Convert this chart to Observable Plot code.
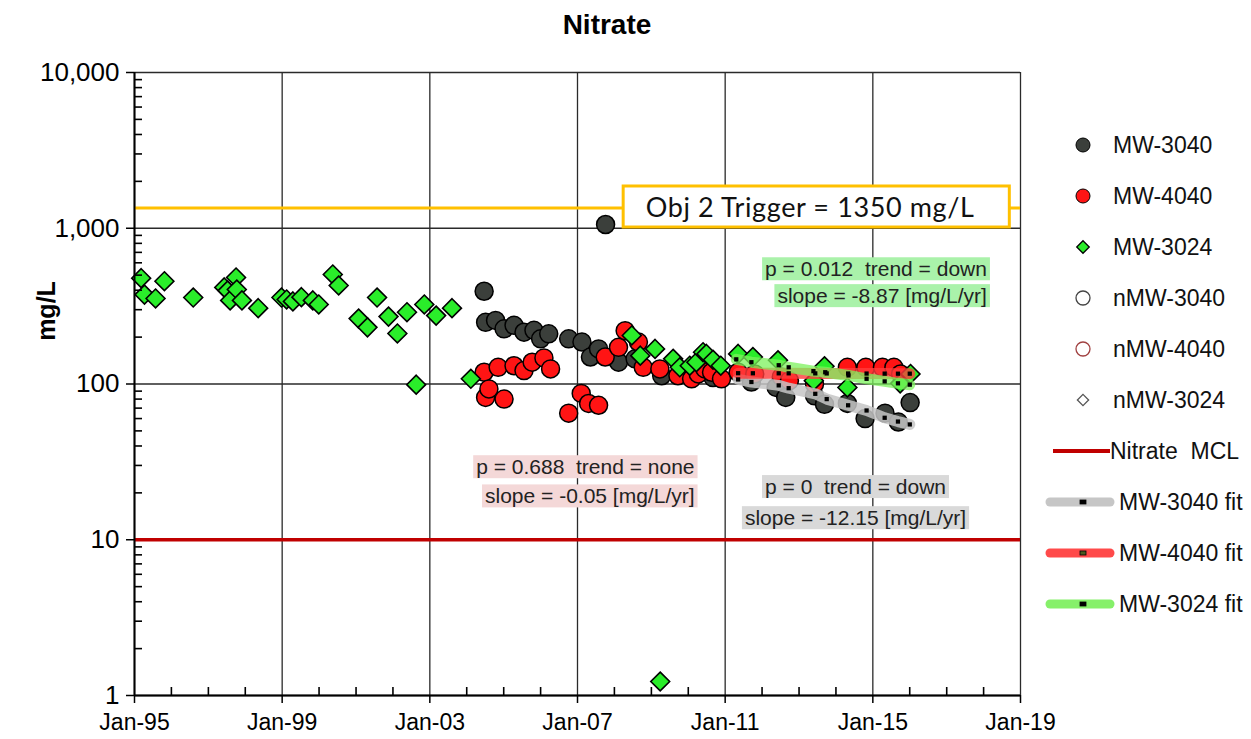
<!DOCTYPE html>
<html><head><meta charset="utf-8">
<script src="https://cdn.jsdelivr.net/npm/d3@7"></script>
<script src="https://cdn.jsdelivr.net/npm/@observablehq/plot@0.6"></script>
<style>
body{margin:0;background:#fff;font-family:"Liberation Sans",Arial,sans-serif;}
#wrap{position:relative;width:1251px;height:739px;overflow:hidden;background:#fff;}
#title{height:50px;position:relative;}
#title span{position:absolute;left:607px;top:9px;transform:translateX(-50%);font-weight:bold;font-size:28px;color:#000;}
#ylab{position:absolute;left:46px;top:311px;transform:translate(-50%,-50%) rotate(-90deg);font-weight:bold;font-size:25px;color:#000;}
#legend{position:absolute;left:1030px;top:110px;}
#chart svg text, #legend text{white-space:pre;}
g.trigger-label text{letter-spacing:0.6px;}
</style></head><body>
<div id="wrap"><div id="title"><span>Nitrate</span></div><div id="chart"></div><div id="ylab">mg/L</div><svg id="legend" width="221" height="520"></svg></div>
<script>
// ---- data (decimal years, mg/L) ----
const mw3040Years = [2004.47, 2004.51, 2004.78, 2005.01, 2005.28, 2005.55, 2005.82, 2006.00, 2006.22, 2006.76, 2007.12, 2007.35, 2007.57, 2007.76, 2008.11, 2008.56, 2009.28, 2010.00, 2010.67, 2011.71, 2012.38, 2012.64, 2013.42, 2013.69, 2014.31, 2014.79, 2015.33, 2015.69, 2016.01];
const mw3040Values = [394, 249, 256, 226, 238, 215, 221, 195, 210, 195, 186, 149, 168, 1057, 138, 145, 113, 119, 110, 103, 95, 82, 84, 74, 75, 60, 65, 57, 76];

const mw4040Years = [2004.47, 2004.51, 2004.60, 2004.85, 2005.01, 2005.28, 2005.55, 2005.77, 2006.09, 2006.27, 2006.76, 2007.10, 2007.30, 2007.57, 2007.75, 2008.11, 2008.29, 2008.65, 2008.78, 2009.23, 2009.72, 2010.09, 2010.27, 2010.45, 2010.63, 2010.90, 2011.35, 2011.80, 2012.52, 2012.74, 2013.42, 2014.31, 2014.81, 2015.26, 2015.57, 2015.75];
const mw4040Values = [119, 82, 93, 128, 80, 131, 122, 138, 147, 125, 65, 87, 75, 73, 149, 172, 220, 186, 128, 125, 113, 108, 116, 125, 119, 108, 119, 116, 111, 105, 100, 128, 128, 128, 128, 116];

const mw3024Years = [1995.18, 1995.27, 1995.57, 1995.81, 1996.59, 1997.43, 1997.52, 1997.59, 1997.75, 1997.77, 1997.91, 1998.35, 1998.98, 1999.12, 1999.29, 1999.52, 1999.83, 1999.99, 2000.37, 2000.53, 2001.07, 2001.31, 2001.57, 2001.88, 2002.12, 2002.38, 2002.63, 2002.85, 2003.17, 2003.60, 2004.11, 2008.47, 2008.70, 2009.10, 2009.24, 2009.59, 2009.77, 2010.04, 2010.22, 2010.40, 2010.49, 2010.67, 2010.88, 2011.35, 2011.75, 2012.43, 2013.40, 2013.69, 2014.31, 2015.74, 2016.02];
const mw3024Values = [478, 375, 354, 457, 359, 417, 398, 344, 483, 404, 344, 307, 359, 349, 339, 361, 344, 324, 505, 429, 263, 231, 359, 271, 211, 289, 99, 324, 275, 307, 108, 205, 152, 168, 1.23, 145, 128, 131, 138, 160, 156, 143, 131, 156, 149, 142, 105, 130, 95, 101, 116];

// trend fit lines
const fit3040Years = [2011.35, 2011.71, 2012.45, 2012.72, 2013.44, 2013.75, 2014.33, 2014.83, 2015.32, 2015.68, 2016.0];
const fit3040Values = [107, 103, 98, 94, 86.5, 80, 73, 67.6, 60.7, 57.4, 55];
const fit4040Years = [2011.35, 2011.75, 2012.45, 2012.72, 2013.44, 2013.75, 2014.33, 2014.83, 2015.32, 2015.68, 2016.0];
const fit4040Values = [117.3, 117.2, 117.1, 117.1, 117.0, 116.9, 116.8, 116.7, 116.6, 116.5, 116.5];
const fit3024Years = [2011.3, 2011.71, 2012.45, 2012.72, 2013.39, 2013.71, 2014.34, 2014.83, 2015.32, 2015.68, 2016.0];
const fit3024Values = [144, 138, 132, 128, 121, 119, 113.5, 108, 104, 101, 99];

const mclValue = [10];
const triggerValue = [1350];

// axis ticks
const majorYears = [1995, 1999, 2003, 2007, 2011, 2015, 2019];
const minorYears = [1996,1997,1998,2000,2001,2002,2004,2005,2006,2008,2009,2010,2012,2013,2014,2016,2017,2018];
const yMajor = [1, 10, 100, 1000, 10000];
const yMinorFactors = [2,3,4,5,6,7,8,9];

// annotations (data units)
const triggerBox = [{x1: 2008.25, x2: 2018.71, y1: 1011, y2: 1854}];
const triggerLabel = [{year: 2013.3, value: 1350, text: "Obj 2 Trigger = 1350 mg/L"}];
const statsGreen = [{year: 2018.09, value: 543, text: "p = 0.012  trend = down"}, {year: 2018.09, value: 365, text: "slope = -8.87 [mg/L/yr]"}];
const statsRed = [{year: 2010.17, value: 29.1, text: "p = 0.688  trend = none"}, {year: 2010.17, value: 18.9, text: "slope = -0.05 [mg/L/yr]"}];
const statsGray = [{year: 2014.53, value: 21.7, text: "p = 0  trend = down"}, {year: 2014.53, value: 13.7, text: "slope = -12.15 [mg/L/yr]"}];

const legendLabels = ["MW-3040","MW-4040","MW-3024","nMW-3040","nMW-4040","nMW-3024","Nitrate  MCL","MW-3040 fit","MW-4040 fit","MW-3024 fit"];

// ---- helpers ----
const D = y => new Date(Date.UTC(1970,0,1) + (y-1970)*365.25*864e5);
const J = y => new Date(Date.UTC(y,0,1));
const rows = (ys, vs) => ys.map((y,i) => ({date: D(y), value: vs[i]}));
const d3040 = rows(mw3040Years, mw3040Values);
const d4040 = rows(mw4040Years, mw4040Values);
const d3024 = rows(mw3024Years, mw3024Values);
const f3040 = rows(fit3040Years, fit3040Values);
const f4040 = rows(fit4040Years, fit4040Values);
const f3024 = rows(fit3024Years, fit3024Values);
const yMinor = yMajor.slice(0,-1).flatMap(m => yMinorFactors.map(f => m*f));
const fmt = d3.utcFormat("%b-%y");

const gridStyle = {stroke: "#2a2a2a", strokeOpacity: 1, strokeWidth: 1.3};
const txt = (data, cls, anchor) => Plot.text(data, {x: d => D(d.year), y: "value", text: "text", textAnchor: anchor, fontSize: 21, fill: "#222", className: cls});

const plot = Plot.plot({
  width: 1251, height: 689,
  marginLeft: 134, marginRight: 231, marginTop: 22, marginBottom: 44,
  style: {fontFamily: "Liberation Sans, Arial, sans-serif", background: "#fff", color: "#000", overflow: "visible"},
  x: {type: "utc", domain: [J(1995), J(2019)], label: null},
  y: {type: "log", domain: [1, 10000], label: null},
  marks: [
    Plot.gridX(majorYears.map(J), gridStyle),
    Plot.gridY(yMajor, gridStyle),
    Plot.ruleY(mclValue, {stroke: "#C00000", strokeWidth: 3.5}),
    Plot.ruleY(triggerValue, {stroke: "#FFC000", strokeWidth: 3}),
    Plot.dot(d3040, {x: "date", y: "value", r: 9, fill: "#3b3f3b", stroke: "#000", strokeWidth: 1.5}),
    Plot.dot(d4040, {x: "date", y: "value", r: 9, fill: "#ff1414", stroke: "#000", strokeWidth: 1.5}),
    Plot.dot(d3024, {x: "date", y: "value", r: 8.5, symbol: "diamond2", fill: "#2aed2a", stroke: "#000", strokeWidth: 1.6}),
    Plot.line(f3040, {x: "date", y: "value", stroke: "#c6c6c6", strokeWidth: 11, strokeOpacity: 0.85}),
    Plot.line(f4040, {x: "date", y: "value", stroke: "#ff3b3b", strokeWidth: 11, strokeOpacity: 0.8}),
    Plot.line(f3024, {x: "date", y: "value", stroke: "#7cf25c", strokeWidth: 11, strokeOpacity: 0.75}),
    Plot.dot(f3040, {x: "date", y: "value", symbol: "square", r: 2.4, fill: "#000"}),
    Plot.dot(f4040, {x: "date", y: "value", symbol: "square", r: 2.4, fill: "#000"}),
    Plot.dot(f3024, {x: "date", y: "value", symbol: "square", r: 2.4, fill: "#000"}),
    Plot.rect(triggerBox, {x1: d => D(d.x1), x2: d => D(d.x2), y1: "y1", y2: "y2", fill: "#fff", stroke: "#FFC000", strokeWidth: 3}),
    Plot.text(triggerLabel, {x: d => D(d.year), y: "value", text: "text", fontSize: 27, fontFamily: "Lato, Noto Sans, sans-serif", fill: "#111", className: "trigger-label"}),
    txt(statsGreen, "stat-green", "end"),
    txt(statsRed, "stat-red", "end"),
    txt(statsGray, "stat-gray", "middle"),
    Plot.ruleX([J(1995)], {stroke: "#000", strokeWidth: 2}),
    Plot.ruleY([1], {stroke: "#000", strokeWidth: 2}),
    // minor ticks pointing inward
    Plot.tickY(yMinor, {y: d => d, insetRight: 1251 - 134 - 231 - 8, stroke: "#000", strokeWidth: 1.6}),
    Plot.tickX(minorYears.map(J), {x: d => d, insetTop: 689 - 22 - 44 - 8, stroke: "#000", strokeWidth: 1.6}),
    Plot.axisX(majorYears.map(J), {anchor: "bottom", tickSize: 8, tickPadding: 10, tickFormat: fmt, fontSize: 23, label: null, stroke: "#000", strokeWidth: 1.5}),
    Plot.axisY(yMajor, {anchor: "left", tickSize: 8, tickPadding: 7, tickFormat: ",", fontSize: 26, label: null, stroke: "#000", strokeWidth: 1.5})
  ]
});
document.getElementById("chart").appendChild(plot);

const NS = "http://www.w3.org/2000/svg";
// backgrounds behind stats labels
for (const [cls, color] of [["stat-green", "#aaf2aa"], ["stat-red", "#f4d8d8"], ["stat-gray", "#d9d9d9"]]) {
  plot.querySelectorAll(`g.${cls} text`).forEach(t => {
    const b = t.getBBox();
    const r = document.createElementNS(NS, "rect");
    r.setAttribute("x", b.x - 3); r.setAttribute("y", b.y);
    r.setAttribute("width", b.width + 6); r.setAttribute("height", b.height);
    r.setAttribute("fill", color);
    if (t.getAttribute("transform")) r.setAttribute("transform", t.getAttribute("transform"));
    t.parentNode.insertBefore(r, t);
  });
}

// ---- legend ----
const lg = d3.select("#legend");
legendLabels.forEach((label, i) => {
  const y = 35 + i * 51;
  const g = lg.append("g");
  let tx = 83;
  if (i === 0) g.append("circle").attr("cx", 53).attr("cy", y).attr("r", 7).attr("fill", "#3b3f3b").attr("stroke", "#000");
  if (i === 1) g.append("circle").attr("cx", 53).attr("cy", y).attr("r", 7).attr("fill", "#ff1414").attr("stroke", "#000");
  if (i === 2) g.append("path").attr("d", d3.symbol(d3.symbolDiamond2, 100)()).attr("transform", `translate(53,${y})`).attr("fill", "#2aed2a").attr("stroke", "#000").attr("stroke-width", 1.3);
  if (i === 3) g.append("circle").attr("cx", 53).attr("cy", y).attr("r", 7).attr("fill", "#fff").attr("stroke", "#444").attr("stroke-width", 1.3);
  if (i === 4) g.append("circle").attr("cx", 53).attr("cy", y).attr("r", 7).attr("fill", "#fff").attr("stroke", "#a04040").attr("stroke-width", 1.3);
  if (i === 5) g.append("path").attr("d", d3.symbol(d3.symbolDiamond2, 80)()).attr("transform", `translate(53,${y})`).attr("fill", "#fff").attr("stroke", "#555").attr("stroke-width", 1.3);
  if (i === 6) { g.append("line").attr("x1", 23).attr("x2", 80).attr("y1", y).attr("y2", y).attr("stroke", "#C00000").attr("stroke-width", 4); tx = 80; }
  if (i >= 7) {
    const c = ["#c6c6c6", "#ff4a4a", "#86f06a"][i - 7];
    g.append("line").attr("x1", 20).attr("x2", 80).attr("y1", y).attr("y2", y).attr("stroke", c).attr("stroke-width", 9).attr("stroke-linecap", "round");
    g.append("rect").attr("x", 50).attr("y", y - 2).attr("width", 6).attr("height", 4).attr("fill", i === 8 ? "#4a5a20" : "#000").attr("stroke", "#000").attr("stroke-width", 0.8);
    tx = 89;
  }
  g.append("text").attr("x", tx).attr("y", y).attr("dominant-baseline", "central").attr("font-size", 23).attr("font-family", "Liberation Sans, Arial, sans-serif").attr("fill", "#111").text(label);
});
</script>
</body></html>
